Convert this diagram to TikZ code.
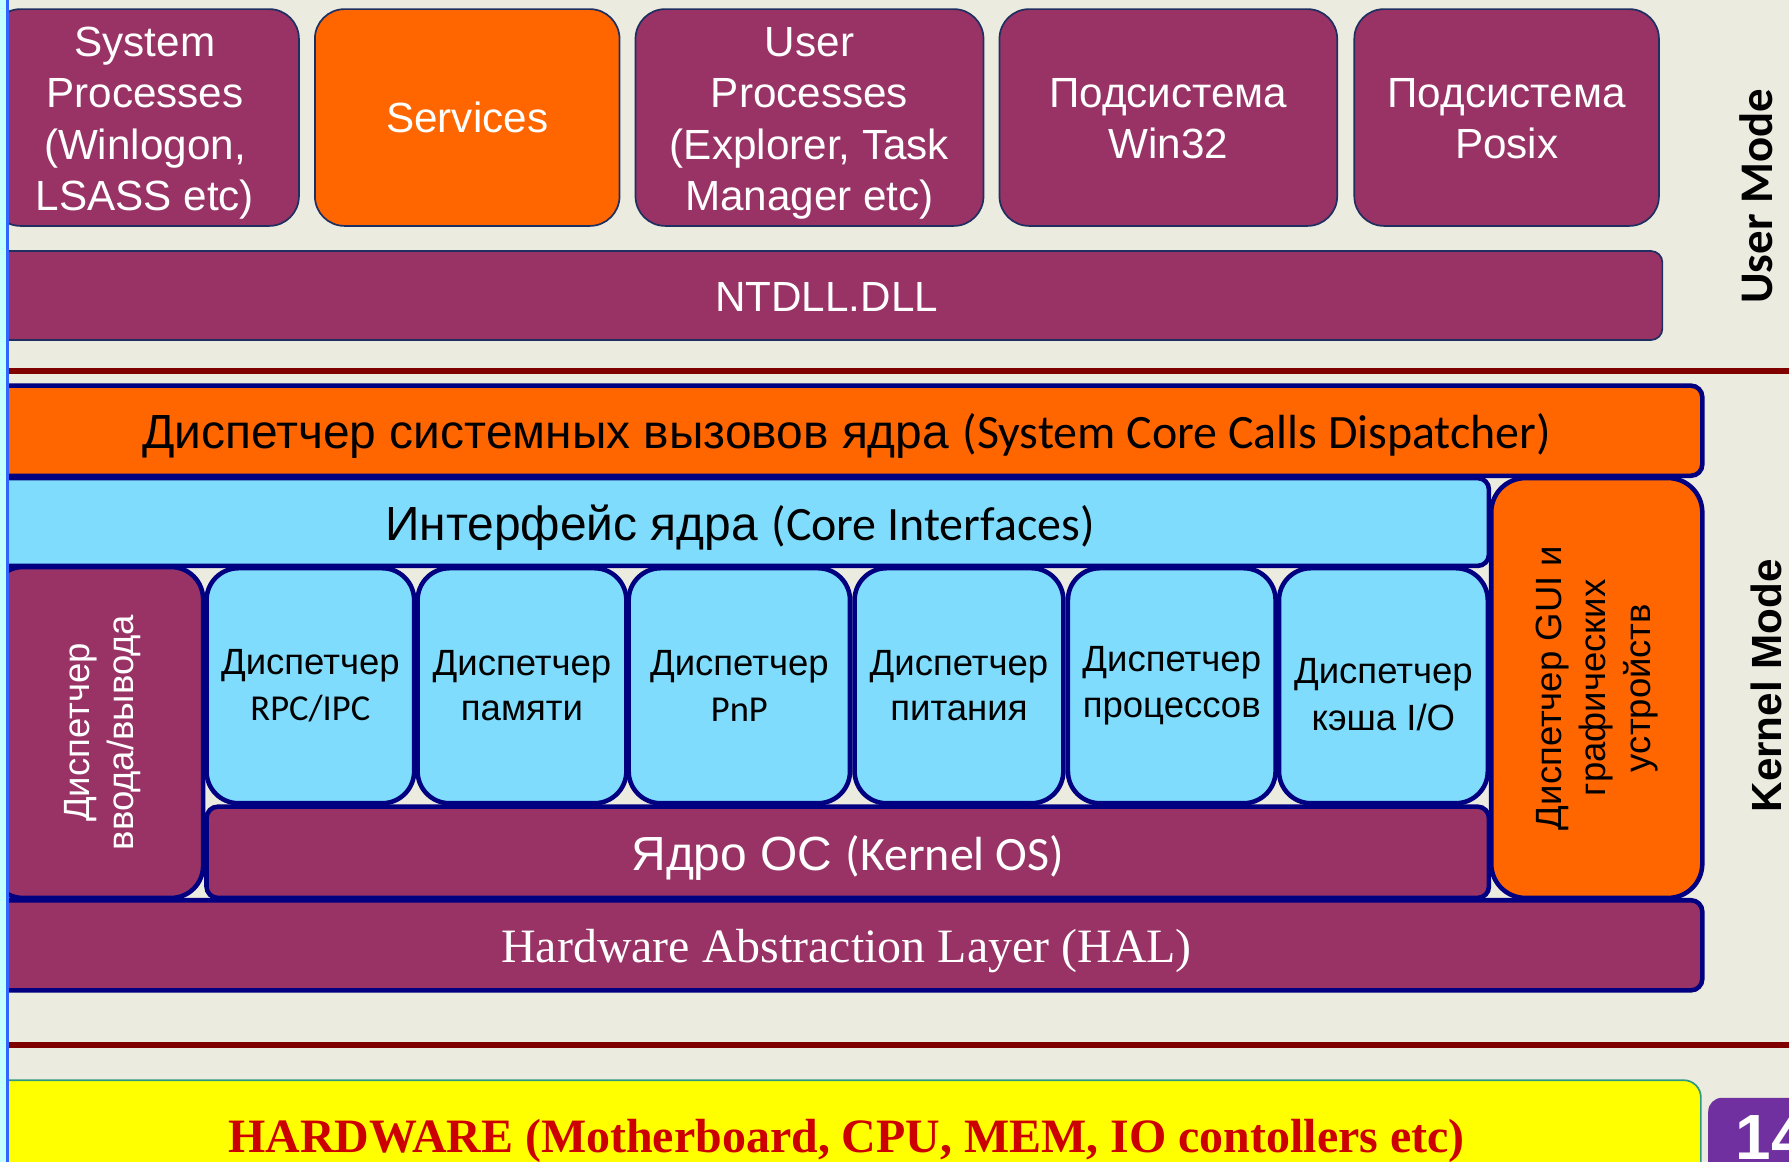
\documentclass[tikz,border=0pt]{standalone}
\usepackage{fontspec}
\setmainfont{Liberation Sans}
\newfontfamily\calfont{Carlito}
\newfontfamily\tnr{Liberation Serif}

\definecolor{cBg}{HTML}{ECEBDF}
\definecolor{cPlum}{HTML}{993366}
\definecolor{cOrange}{HTML}{FF6600}
\definecolor{cSky}{HTML}{80DCFC}
\definecolor{cNavy}{HTML}{000080}
\definecolor{cEdge}{HTML}{1F2F60}
\definecolor{cLine}{HTML}{800000}
\definecolor{cYellow}{HTML}{FFFF00}
\definecolor{cTeal}{HTML}{2E9A80}
\definecolor{cHwText}{HTML}{CC0000}
\definecolor{cPurple}{HTML}{7030A0}
\definecolor{cStripe}{HTML}{3366FF}
\definecolor{cCyan}{HTML}{C4FFFF}

\begin{document}
\begin{tikzpicture}[x=1pt,y=-1pt,
  ubox/.style={draw=cEdge, line width=1.5pt, rounded corners=26pt,
    inner sep=0pt, outer sep=0pt, anchor=north west, text=white,
    align=center, font=\fontsize{37}{45}\selectfont, minimum height=190},
  utext/.style={text=white, align=center, font=\fontsize{37}{45}\selectfont},
  kbox/.style={draw=cNavy, line width=4pt, inner sep=0pt, outer sep=0pt,
    anchor=north west},
  bar/.style={kbox, rounded corners=10pt},
  mgr/.style={kbox, fill=cSky, rounded corners=28pt, minimum height=206,
    align=center, font=\fontsize{32}{40}\selectfont},
  bigtext/.style={font=\fontsize{42}{48}\selectfont},
  sidetext/.style={rotate=90, align=center, font=\fontsize{32}{39}\selectfont},
  sepline/.style={draw=cLine, line width=5pt},
]
\useasboundingbox (0,0) rectangle (1568,1018);
\clip (0,0) rectangle (1568,1018);
\fill[cBg] (0,0) rectangle (1568,1018);

% user mode processes and subsystems
\node[ubox, fill=cPlum, minimum width=270] (sys) at (-8,8) {};
\node[utext] (systext) at ([yshift=-5pt]sys.center)
  {System\\Processes\\(Winlogon,\\LSASS etc)};
\node[ubox, fill=cOrange, minimum width=267] (svc) at (276,8) {Services};
\node[ubox, fill=cPlum, minimum width=305] (usr) at (557,8) {};
\node[utext] (usrtext) at ([yshift=-5pt]usr.center)
  {User\\Processes\\(Explorer, Task\\Manager etc)};
\node[ubox, fill=cPlum, minimum width=296] (w32) at (876,8) {};
\node[utext] (w32text) at ([yshift=-1pt]w32.center) {Подсистема\\Win32};
\node[ubox, fill=cPlum, minimum width=267] (psx) at (1187,8) {};
\node[utext] (psxtext) at ([yshift=-1pt]psx.center) {Подсистема\\Posix};
\node[ubox, rounded corners=10pt, fill=cPlum, minimum width=1465,
  minimum height=78] (ntdll) at (-8,220) {};
\node[utext] (ntdlltext) at ([yshift=-1pt]ntdll.center) {NTDLL.DLL};

% user / kernel boundary
\coordinate (ul) at (8,325);
\coordinate (ur) at (1568,325);
\draw[sepline] (ul) -- (ur);

% kernel mode layers
\node[bar, fill=cOrange, minimum width=1500, minimum height=79] (disp) at (-8,338) {};
\node[bigtext] (disptext) at ([yshift=-5pt]disp.center)
  {Диспетчер системных вызовов ядра {\calfont (System Core Calls Dispatcher)}};
\node[bar, fill=cSky, minimum width=1313, minimum height=77] (iface) at (-8,419) {};
\node[bigtext] (ifacetext) at ([yshift=-5pt]iface.center)
  {Интерфейс ядра {\calfont (Core Interfaces)}};
\node[kbox, fill=cOrange, rounded corners=30pt, minimum width=185,
  minimum height=368] (gui) at (1307,419) {};
\node[sidetext] (guitext) at (gui.center)
  {Диспетчер GUI и\\графических\\устройств};
\node[kbox, fill=cPlum, rounded corners=28pt, minimum width=186,
  minimum height=290] (io) at (-8,497) {};
\node[sidetext, text=white] (iotext) at ([xshift=5pt]io.center)
  {Диспетчер\\ввода/вывода};

\node[mgr, minimum width=182] (rpc) at (181,498) {Диспетчер\\{\calfont RPC/IPC}};
\node[mgr, minimum width=183] (mem) at (366,498) {Диспетчер\\памяти};
\node[mgr, minimum width=194] (pnp) at (551,498) {Диспетчер\\{\calfont PnP}};
\node[mgr, minimum width=183] (pwr) at (749,498) {Диспетчер\\питания};
\node[mgr, minimum width=182] (prc) at (936,498) {Диспетчер\\процессов};
\node[mgr, minimum width=183] (cache) at (1121,498) {};
\node[align=center, font=\fontsize{32}{41}\selectfont] (cachetext)
  at ([yshift=-8pt]cache.center) {Диспетчер\\кэша I/O};

\node[bar, fill=cPlum, minimum width=1124, minimum height=80] (kern) at (181,707) {};
\node[bigtext, text=white] (kerntext) at ([yshift=-5pt]kern.center)
  {Ядро ОС {\calfont (Kernel OS)}};
\node[bar, fill=cPlum, minimum width=1500, minimum height=79] (hal) at (-8,789) {};
\node[font=\tnr\fontsize{42}{48}\selectfont, text=white] (haltext)
  at ([yshift=-5pt]hal.center) {Hardware Abstraction Layer (HAL)};

% kernel / hardware boundary
\coordinate (kl) at (8,916);
\coordinate (kr) at (1568,916);
\draw[sepline] (kl) -- (kr);

% hardware
\node[draw=cTeal, line width=1.5pt, fill=cYellow, rounded corners=15pt,
  anchor=north west, inner sep=0pt, minimum width=1498, minimum height=110]
  (hw) at (-8,946) {};
\node[font=\tnr\bfseries\fontsize{42}{48}\selectfont, text=cHwText, anchor=base]
  (hwtext) at (742,1010) {HARDWARE (Motherboard, CPU, MEM, IO contollers etc)};

% page number tab
\node[fill=cPurple, rounded corners=12pt, anchor=north west, inner sep=0pt,
  minimum width=110, minimum height=100] (page) at (1497,962) {};
\node[font=\bfseries\fontsize{56}{60}\selectfont, text=white, anchor=base west,
  inner sep=0pt] (pagetext) at (1521,1016) {14};

% mode labels
\node[rotate=90, font=\calfont\bfseries\fontsize{41}{48}\selectfont] (umode)
  at (1539,172) {User Mode};
\node[rotate=90, font=\bfseries\fontsize{37}{44}\selectfont] (kmode)
  at (1548,601) {Kernel Mode};

% left margin stripe
\fill[cCyan] (0,0) rectangle (5,1018);
\fill[cStripe] (5,0) rectangle (8,1018);
\end{tikzpicture}
\end{document}
